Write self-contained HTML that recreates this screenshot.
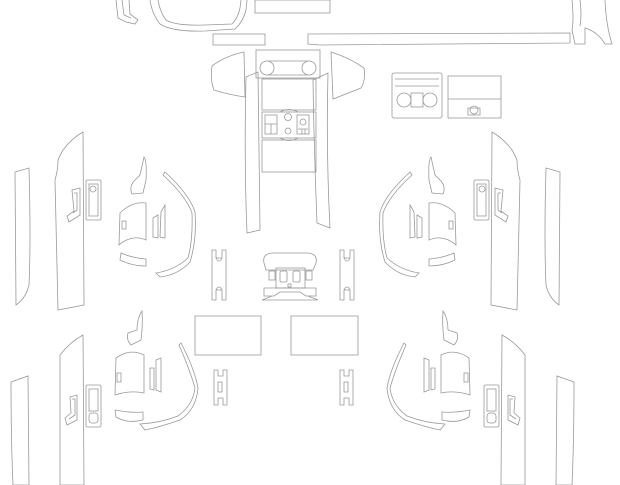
<!DOCTYPE html>
<html><head><meta charset="utf-8"><style>html,body{margin:0;padding:0;background:#fff;width:620px;height:485px;overflow:hidden}svg{display:block}</style></head>
<body>
<svg width="620" height="485" viewBox="0 0 620 485" xmlns="http://www.w3.org/2000/svg" fill="none" stroke="#999" stroke-width="0.8">
<defs>
<g id="doorTop">
  <path d="M15 172 L29 168 Q31 240 29 285 Q26 298 16 305 Z"/>
  <path d="M58 160 Q60 155 63 150 Q72 138 83 132 L84 305 L58 310 Q56 230 55 180 Q58 170 58 160 Z"/>
  <rect x="86" y="180" width="15" height="40" rx="1.5"/>
  <rect x="89" y="184" width="9" height="32"/>
  <circle cx="93" cy="189" r="3"/>
  <path d="M72 190 L80 188 L80 215 L69 222 L67 216 L74 211 Z"/>
  <path d="M74 193 L77 193 L77 210 L73 213"/>
  <path d="M144 157 Q147 160 146 180 L143 193 L132 194 Q129 187 134 181 L140 175 Z"/>
  <path d="M120 213 Q132 201 146 203 L146 240 Q132 234 119 245 Z"/>
  <rect x="122" y="221" width="4" height="8"/>
  <path d="M153 218 L158 215 L158 238 L153 237 Z"/>
  <path d="M161 212 L165 205 L165 238 L160 237 Z"/>
  <path d="M121 253 Q132 258 146 259 L146 266 Q132 266 120 260 Z"/>
  <path d="M165 172 Q190 195 195 212 Q197 240 190 262 Q178 275 160 277 L156 273 Q175 270 188 258 Q193 240 192 213 Q186 196 163 175 Z"/>
</g>
<g id="doorBot">
  <path d="M11 382 L28 376 L29 485 L13 485 Q11 440 11 382 Z"/>
  <path d="M60 355 Q70 342 83 335 L84 485 L60 485 Z"/>
  <rect x="86" y="385" width="15" height="42" rx="1.5"/>
  <rect x="89" y="389" width="9" height="22"/>
  <rect x="89" y="413" width="9" height="10" rx="3"/>
  <path d="M70 397 L77 395 L77 420 L67 425 L65 418 L71 413 Z"/>
  <path d="M72 399 L75 399 L75 415 L69 419"/>
  <path d="M142 311 Q143 325 141 340 L131 345 Q126 340 128 333 L137 330 Q137 318 142 311 Z"/>
  <path d="M116 358 Q130 348 144 355 L144 393 Q130 390 115 395 Z"/>
  <rect x="117" y="373" width="4" height="9"/>
  <path d="M150 368 L154 368 L154 390 L150 389 Z"/>
  <path d="M156 360 L161 358 L161 392 L156 390 Z"/>
  <path d="M115 410 Q130 413 143 412 L143 420 Q128 424 116 417 Z"/>
  <path d="M181 343 Q195 370 198 388 Q196 410 180 420 Q160 427 145 430 L140 424 Q160 423 178 416 Q193 405 195 388 Q190 370 179 345 Z"/>
</g>
<g id="hpiece">
  <path d="M0 0 L4 0 L4 8 L10 8 L10 0 L14 0 L14 50 L10 50 L10 40 L4 40 L4 50 L0 50 Z"/>
  <path d="M4 8 Q7 14 10 8 M4 40 Q7 34 10 40"/>
</g>
<g id="hsmall">
  <path d="M0 0 L4 0 L4 6 L9 6 L9 0 L13 0 L13 35 L9 35 L9 28 L4 28 L4 35 L0 35 Z"/>
  <rect x="4" y="12" width="4" height="10"/>
</g>
</defs>

<path d="M116 0 L118 18 L126 22 L135 24 L138 20 L130 14 L129 0"/>
<path d="M122 0 L124 15 L131 18"/>
<path d="M150 0 Q152 14 160 24 Q172 32 205 31 L235 29 Q243 22 246 10 L247 0"/>
<path d="M158 0 Q160 12 166 20 Q176 26 205 25 L232 24 Q238 18 240 8 L241 0"/>
<rect x="255" y="0" width="75" height="13"/>
<rect x="213" y="34" width="52" height="11"/>
<path d="M308 34 L570 33 L570 43 L320 45 L308 44 Z"/>
<path d="M572 0 Q574 20 572 30 L575 44 L585 44 L585 28 Q598 32 605 44 L612 44 Q606 25 605 0"/>
<path d="M580 0 Q582 15 580 26"/>

<rect x="256" y="50" width="64" height="28"/>
<circle cx="267" cy="68" r="7"/>
<circle cx="309" cy="68" r="7"/>
<path d="M267 61 L309 61 M267 75 L309 75"/>
<path d="M212 66 Q225 56 244 52 L245 97 Q230 95 214 90 Q210 80 212 66 Z"/>
<path d="M331 52 Q350 58 364 68 Q366 80 361 88 L333 99 Z"/>
<path d="M246 77 L258 72 L260 230 L247 233 Q244 160 246 77 Z"/>
<path d="M313 80 L328 73 Q326 150 330 228 L317 223 Q314 150 313 80 Z"/>
<rect x="262" y="79" width="54" height="31"/>
<rect x="262" y="112" width="54" height="26"/>
<path d="M280 112 Q289 107 298 112 M280 138 Q289 143 298 138"/>
<rect x="265" y="115" width="12" height="19"/>
<path d="M265 124 L277 124 M271 124 L271 134"/>
<circle cx="288" cy="117" r="3.5"/>
<circle cx="288" cy="131" r="3"/>
<rect x="297" y="115" width="12" height="19"/>
<circle cx="303" cy="122" r="3"/>
<path d="M298 129 L308 129 M302 129 L302 134 M305 129 L305 134"/>
<rect x="262" y="140" width="54" height="32"/>

<rect x="392" y="73" width="50" height="45" rx="2"/>
<path d="M395 79 L439 79 M395 86 L439 86"/>
<circle cx="404" cy="100" r="7"/><circle cx="430" cy="100" r="7"/>
<rect x="411" y="93" width="12" height="14"/>
<rect x="448" y="76" width="53" height="42"/>
<path d="M448 99 L501 99"/>
<circle cx="474" cy="110" r="4"/>
<path d="M468 108 L480 108 L480 115 L468 115 Z"/>

<use href="#doorTop"/>
<use href="#doorTop" transform="translate(575,0) scale(-1,1)"/>
<use href="#doorBot"/>
<use href="#doorBot" transform="translate(585,0) scale(-1,1)"/>

<use href="#hpiece" transform="translate(212,250)"/>
<use href="#hpiece" transform="translate(340,250)"/>
<use href="#hsmall" transform="translate(214,370)"/>
<use href="#hsmall" transform="translate(340,370)"/>
<path d="M264 263 Q262 254 272 253 L308 253 Q318 254 316 263 L313 270 L266 270 Z"/>
<rect x="276" y="268" width="29" height="20"/>
<rect x="280" y="271" width="7" height="11" rx="1.5"/>
<rect x="293" y="271" width="7" height="11" rx="1.5"/>
<rect x="269" y="271" width="6" height="9"/>
<rect x="306" y="271" width="6" height="9"/>
<rect x="288" y="284" width="3" height="3"/>
<path d="M264 288 L316 288 L316 296 L306 296 L300 292 L280 292 L274 296 L264 296 Z"/>
<path d="M262 300 L318 300 L308 296 M262 300 L272 296"/>

<rect x="195" y="316" width="66" height="39"/>
<rect x="291" y="316" width="67" height="39"/>
</svg>
</body></html>
